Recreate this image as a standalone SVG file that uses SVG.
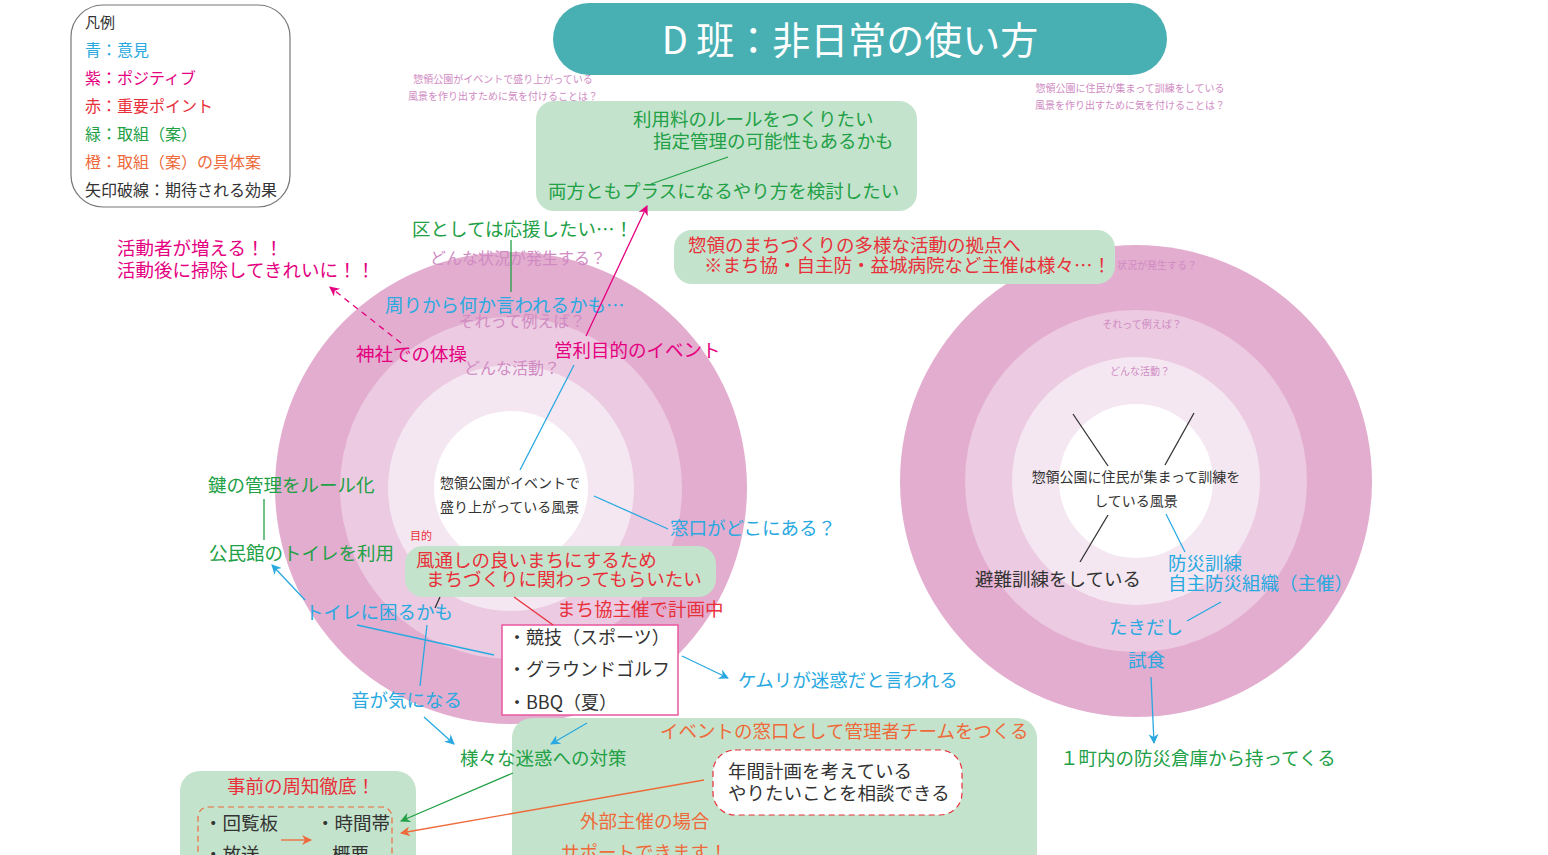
<svg xmlns="http://www.w3.org/2000/svg" width="1548" height="855" viewBox="0 0 1548 855">
<style>
text{font-family:"Noto Sans CJK JP","Noto Sans",sans-serif;}
.m{font-size:18.5px;}
.lg{font-size:16px;}
.b{fill:#29A9E0;}
.p{fill:#E4007F;}
.r{fill:#E8303A;}
.g{fill:#22A046;}
.o{fill:#EE6A3A;}
.k{fill:#333333;}
.q{fill:#D08BC3;}
.box{fill:#C4E3CC;}
.ln{fill:none;stroke-width:1.3;}
</style>
<defs>
<marker id="ab" viewBox="0 0 10 10" refX="9" refY="5" markerWidth="12" markerHeight="10" markerUnits="userSpaceOnUse" orient="auto"><path d="M0,0 L10,5 L0,10 L3,5 z" fill="#29A9E0"/></marker>
<marker id="ap" viewBox="0 0 10 10" refX="9" refY="5" markerWidth="12" markerHeight="10" markerUnits="userSpaceOnUse" orient="auto"><path d="M0,0 L10,5 L0,10 L3,5 z" fill="#E4007F"/></marker>
<marker id="ag" viewBox="0 0 10 10" refX="9" refY="5" markerWidth="12" markerHeight="10" markerUnits="userSpaceOnUse" orient="auto"><path d="M0,0 L10,5 L0,10 L3,5 z" fill="#22A046"/></marker>
<marker id="ao" viewBox="0 0 10 10" refX="9" refY="5" markerWidth="12" markerHeight="10" markerUnits="userSpaceOnUse" orient="auto"><path d="M0,0 L10,5 L0,10 L3,5 z" fill="#EE6A3A"/></marker>
</defs>
<rect width="1548" height="855" fill="#FFFFFF"/>

<g id="legend">
<rect x="71" y="5" width="219" height="202" rx="32" fill="#FFFFFF" stroke="#777777" stroke-width="1.2"/>
<text x="85" y="28" font-size="15" class="k">凡例</text>
<text x="85" y="56" class="lg b">青：意見</text>
<text x="85" y="84" class="lg p">紫：ポジティブ</text>
<text x="85" y="112" class="lg r">赤：重要ポイント</text>
<text x="85" y="140" class="lg g">緑：取組（案）</text>
<text x="85" y="168" class="lg o">橙：取組（案）の具体案</text>
<text x="85" y="196" class="lg k">矢印破線：期待される効果</text>
</g>

<g id="title">
<rect x="553" y="3" width="614" height="72" rx="36" fill="#48AFB3"/>
<text x="850" y="54" font-size="38" fill="#FFFFFF" text-anchor="middle">D 班：非日常の使い方</text>
</g>

<g id="circle-left">
<circle cx="511" cy="488" r="236" fill="#E3ADCF"/>
<circle cx="511" cy="488" r="171" fill="#ECCAE1"/>
<circle cx="511" cy="488" r="123" fill="#F4E7F1"/>
<circle cx="511" cy="488" r="77" fill="#FFFFFF"/>
<text x="518" y="264" font-size="16" class="q" text-anchor="middle">どんな状況が発生する？</text>
<text x="522" y="327" font-size="16" class="q" text-anchor="middle">それって例えば？</text>
<text x="512" y="374" font-size="16" class="q" text-anchor="middle">どんな活動？</text>
<text x="440" y="488" font-size="14" class="k">惣領公園がイベントで</text>
<text x="440" y="512" font-size="14" class="k">盛り上がっている風景</text>
</g>

<g id="circle-right">
<circle cx="1136" cy="481" r="236" fill="#E3ADCF"/>
<circle cx="1136" cy="481" r="171" fill="#ECCAE1"/>
<circle cx="1136" cy="481" r="124" fill="#F4E7F1"/>
<circle cx="1136" cy="481" r="77" fill="#FFFFFF"/>
<text x="1117" y="269" font-size="10" class="q">状況が発生する？</text>
<text x="1142" y="328" font-size="10" class="q" text-anchor="middle">それって例えば？</text>
<text x="1140" y="375" font-size="10" class="q" text-anchor="middle">どんな活動？</text>
<text x="1136" y="482" font-size="14" class="k" text-anchor="middle">惣領公園に住民が集まって訓練を</text>
<text x="1136" y="506" font-size="14" class="k" text-anchor="middle">している風景</text>
</g>

<g id="questions">
<text x="503" y="83" font-size="10" class="q" text-anchor="middle">惣領公園がイベントで盛り上がっている</text>
<text x="503" y="100" font-size="10" class="q" text-anchor="middle">風景を作り出すために気を付けることは？</text>
<text x="1130" y="92" font-size="10" class="q" text-anchor="middle">惣領公園に住民が集まって訓練をしている</text>
<text x="1130" y="109" font-size="10" class="q" text-anchor="middle">風景を作り出すために気を付けることは？</text>
</g>

<g id="box-fee">
<rect x="536" y="101" width="381" height="110" rx="18" class="box"/>
<text x="633" y="126" class="m g">利用料のルールをつくりたい</text>
<text x="653" y="148" class="m g">指定管理の可能性もあるかも</text>
<text x="548" y="198" class="m g">両方ともプラスになるやり方を検討したい</text>
</g>

<g id="box-base">
<rect x="674" y="230" width="441" height="54" rx="18" class="box"/>
<text x="688" y="252" class="m r">惣領のまちづくりの多様な活動の拠点へ</text>
<text x="704" y="272" class="m r">※まち協・自主防・益城病院など主催は様々…！</text>
</g>

<g id="box-purpose">
<text x="410" y="540" font-size="11" class="r">目的</text>
<rect x="405" y="546" width="311" height="51" rx="18" class="box"/>
<text x="416" y="567" class="m r">風通しの良いまちにするため</text>
<text x="426" y="586" class="m r">まちづくりに関わってもらいたい</text>
</g>

<g id="box-events">
<text x="557" y="616" class="m r">まち協主催で計画中</text>
<rect x="502" y="625" width="176" height="90" fill="#FFFFFF" stroke="#E8579F" stroke-width="1.5"/>
<text x="508" y="644" font-size="18" class="k">・競技（スポーツ）</text>
<text x="508" y="676" font-size="18" class="k">・グラウンドゴルフ</text>
<text x="508" y="709" font-size="18" class="k">・BBQ（夏）</text>
</g>

<g id="box-team">
<rect x="512" y="718" width="525" height="160" rx="20" class="box"/>
<text x="660" y="738" class="m o">イベントの窓口として管理者チームをつくる</text>
<rect x="713" y="750" width="249" height="65" rx="22" fill="#FFFFFF" stroke="#E8303A" stroke-width="1.2" stroke-dasharray="6 4"/>
<text x="728" y="778" class="m k">年間計画を考えている</text>
<text x="728" y="800" class="m k">やりたいことを相談できる</text>
<text x="580" y="828" class="m o">外部主催の場合</text>
<text x="561" y="859" class="m o">サポートできます！</text>
</g>

<g id="box-notice">
<rect x="180" y="771" width="236" height="110" rx="20" class="box"/>
<text x="227" y="793" class="m r">事前の周知徹底！</text>
<rect x="198" y="807" width="194" height="70" rx="10" fill="none" stroke="#EE6A3A" stroke-width="1.2" stroke-dasharray="6 4"/>
<text x="204" y="830" class="m k">・回覧板</text>
<text x="316" y="830" class="m k">・時間帯</text>
<text x="204" y="861" class="m k">・放送</text>
<text x="332" y="861" class="m k">概要</text>
</g>

<g id="labels">
<text x="412" y="236" class="m g">区としては応援したい…！</text>
<text x="117" y="255" class="m p">活動者が増える！！</text>
<text x="117" y="277" class="m p">活動後に掃除してきれいに！！</text>
<text x="385" y="312" class="m b">周りから何か言われるかも…</text>
<text x="356" y="361" class="m p">神社での体操</text>
<text x="554" y="357" class="m p">営利目的のイベント</text>
<text x="208" y="492" class="m g">鍵の管理をルール化</text>
<text x="209" y="560" class="m g">公民館のトイレを利用</text>
<text x="670" y="535" class="m b">窓口がどこにある？</text>
<text x="305" y="619" class="m b">トイレに困るかも</text>
<text x="351" y="707" class="m b">音が気になる</text>
<text x="738" y="687" class="m b">ケムリが迷惑だと言われる</text>
<text x="460" y="765" class="m g">様々な迷惑への対策</text>
<text x="975" y="586" class="m k">避難訓練をしている</text>
<text x="1168" y="570" class="m b">防災訓練</text>
<text x="1168" y="590" class="m b">自主防災組織（主催）</text>
<text x="1109" y="634" class="m b">たきだし</text>
<text x="1128" y="667" class="m b">試食</text>
<text x="1060" y="765" class="m g">１町内の防災倉庫から持ってくる</text>
</g>

<g id="connectors">
<line x1="728" y1="157" x2="651" y2="184" class="ln" stroke="#22A046"/>
<line x1="586" y1="336" x2="647" y2="206" class="ln" stroke="#E4007F" marker-end="url(#ap)"/>
<line x1="511" y1="240" x2="511" y2="292" class="ln" stroke="#22A046" stroke-width="2"/>
<line x1="401" y1="343" x2="330" y2="287" class="ln" stroke="#E4007F" stroke-dasharray="6 5" marker-end="url(#ap)"/>
<line x1="574" y1="365" x2="520" y2="470" class="ln" stroke="#29A9E0"/>
<line x1="594" y1="496" x2="668" y2="529" class="ln" stroke="#29A9E0"/>
<line x1="264" y1="499" x2="264" y2="540" class="ln" stroke="#22A046" stroke-width="2"/>
<line x1="305" y1="600" x2="272" y2="565" class="ln" stroke="#29A9E0" marker-end="url(#ab)"/>
<line x1="357" y1="625" x2="494" y2="655" class="ln" stroke="#29A9E0"/>
<line x1="427" y1="625" x2="420" y2="686" class="ln" stroke="#29A9E0"/>
<line x1="440" y1="597" x2="435" y2="608" class="ln" stroke="#333333"/>
<line x1="514" y1="597" x2="553" y2="625" class="ln" stroke="#E8303A"/>
<line x1="682" y1="656" x2="728" y2="678" class="ln" stroke="#29A9E0" marker-end="url(#ab)"/>
<line x1="424" y1="717" x2="454" y2="744" class="ln" stroke="#29A9E0" marker-end="url(#ab)"/>
<line x1="587" y1="723" x2="551" y2="744" class="ln" stroke="#29A9E0" marker-end="url(#ab)"/>
<line x1="513" y1="773" x2="401" y2="821" class="ln" stroke="#22A046" marker-end="url(#ag)"/>
<line x1="704" y1="780" x2="401" y2="833" class="ln" stroke="#EE6A3A" marker-end="url(#ao)"/>
<line x1="281" y1="840" x2="311" y2="840" class="ln" stroke="#EE6A3A" marker-end="url(#ao)"/>
<line x1="1073" y1="414" x2="1108" y2="466" class="ln" stroke="#333333"/>
<line x1="1194" y1="413" x2="1165" y2="465" class="ln" stroke="#333333"/>
<line x1="1108" y1="515" x2="1080" y2="562" class="ln" stroke="#333333"/>
<line x1="1166" y1="514" x2="1185" y2="552" class="ln" stroke="#29A9E0"/>
<line x1="1221" y1="602" x2="1187" y2="621" class="ln" stroke="#29A9E0"/>
<line x1="1151" y1="677" x2="1154" y2="743" class="ln" stroke="#29A9E0" marker-end="url(#ab)"/>
</g>
</svg>
